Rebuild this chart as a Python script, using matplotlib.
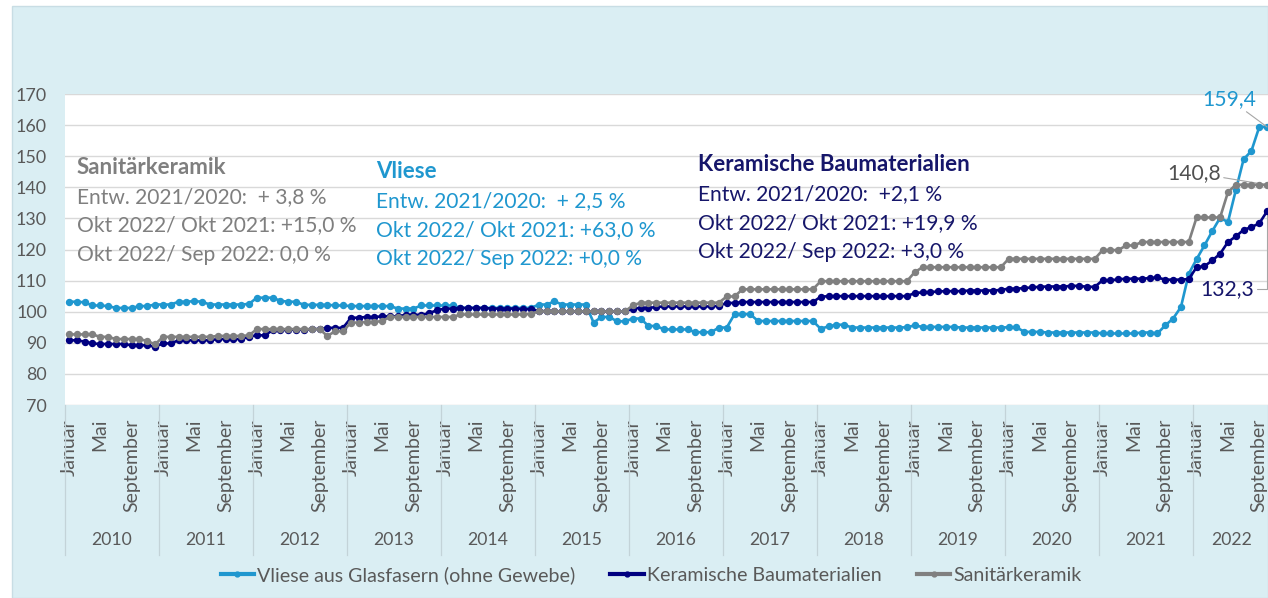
import matplotlib
matplotlib.use("Agg")
import matplotlib.pyplot as plt
import matplotlib.transforms as mtransforms
from matplotlib.lines import Line2D
from matplotlib.patches import Rectangle
import numpy as np

FONT = "Lato"
plt.rcParams['font.family'] = [FONT, 'DejaVu Sans']

# ---------------- data ----------------
years = [2010, 2011, 2012, 2013, 2014, 2015, 2016, 2017, 2018, 2019, 2020, 2021, 2022]
months_in_year = [12, 12, 12, 12, 12, 12, 12, 12, 12, 12, 12, 12, 10]
month_tick_labels = ["Januar", "Mai", "September"]
month_tick_offsets = [0, 4, 8]

vliese = [
    103.2, 103.2, 103.0, 102.0, 102.0, 101.8, 101.2, 101.2, 101.2, 101.8, 101.8, 102.3,  # 2010
    102.3, 102.3, 103.2, 103.2, 103.4, 103.2, 102.3, 102.3, 102.3, 102.3, 102.3, 102.5,  # 2011
    104.5, 104.5, 104.5, 103.5, 103.2, 103.2, 102.2, 102.2, 102.2, 102.2, 102.0, 102.0,  # 2012
    101.8, 101.8, 101.8, 101.8, 101.8, 101.8, 101.0, 101.0, 101.0, 102.0, 102.0, 102.0,  # 2013
    102.0, 102.0, 101.2, 101.2, 101.2, 101.2, 101.2, 101.2, 101.2, 101.2, 101.2, 101.2,  # 2014
    102.3, 102.3, 103.3, 102.3, 102.3, 102.3, 102.3, 96.5, 98.3, 98.3, 96.9, 96.9,       # 2015
    97.8, 97.8, 95.4, 95.4, 94.3, 94.3, 94.3, 94.3, 93.4, 93.4, 93.4, 94.9,             # 2016
    94.9, 99.2, 99.2, 99.2, 97.0, 97.0, 97.0, 97.0, 97.0, 97.0, 97.0, 97.0,             # 2017
    94.5, 95.3, 95.8, 95.8, 94.9, 94.9, 94.9, 94.9, 94.9, 94.9, 94.9, 95.0,             # 2018
    95.6, 95.1, 95.1, 95.1, 95.1, 95.1, 94.9, 94.9, 94.9, 94.9, 94.9, 94.9,             # 2019
    95.0, 95.0, 93.5, 93.5, 93.5, 93.3, 93.3, 93.3, 93.3, 93.3, 93.3, 93.3,             # 2020
    93.0, 93.0, 93.0, 93.0, 93.0, 93.3, 93.3, 93.0, 95.6, 97.8, 101.5, 112.2,           # 2021
    116.9, 121.3, 125.9, 130.2, 128.8, 139.0, 149.0, 151.7, 159.4, 159.4,               # 2022
]
keramik = [
    90.8, 90.8, 90.4, 89.8, 89.6, 89.6, 89.6, 89.6, 89.2, 89.2, 89.2, 88.7,             # 2010
    89.8, 89.8, 90.8, 90.8, 90.8, 90.8, 90.8, 91.2, 91.2, 91.2, 91.2, 92.0,             # 2011
    92.4, 92.4, 94.0, 94.0, 94.2, 94.2, 94.2, 94.4, 94.4, 94.8, 94.8, 94.8,             # 2012
    98.0, 98.1, 98.3, 98.3, 98.5, 98.5, 98.5, 99.0, 99.0, 99.0, 99.5, 100.5,            # 2013
    101.0, 101.0, 101.2, 101.2, 101.2, 101.2, 101.0, 101.0, 101.0, 101.0, 100.8, 100.8, # 2014
    100.3, 100.1, 100.1, 100.1, 100.1, 100.1, 100.1, 100.1, 100.1, 100.1, 100.1, 100.1, # 2015
    101.0, 101.2, 101.2, 101.5, 101.7, 101.7, 101.7, 101.7, 101.7, 101.7, 101.7, 101.9, # 2016
    102.8, 102.8, 103.1, 103.1, 103.1, 103.1, 103.1, 103.1, 103.1, 103.1, 103.1, 103.1, # 2017
    104.8, 105.0, 105.0, 105.0, 105.0, 105.0, 105.0, 105.0, 105.0, 105.0, 105.0, 105.0, # 2018
    106.0, 106.2, 106.3, 106.5, 106.6, 106.6, 106.6, 106.8, 106.8, 106.8, 106.8, 107.0, # 2019
    107.4, 107.4, 107.6, 107.8, 108.0, 108.1, 108.1, 108.1, 108.3, 108.3, 108.0, 108.0, # 2020
    110.1, 110.1, 110.4, 110.6, 110.6, 110.6, 110.8, 111.0, 110.3, 110.3, 110.3, 110.5, # 2021
    114.3, 114.6, 116.5, 118.6, 122.4, 124.2, 126.3, 127.2, 128.4, 132.3,               # 2022
]
sanitaer = [
    92.7, 92.7, 92.7, 92.7, 91.9, 91.9, 91.2, 91.2, 91.2, 91.2, 90.6, 89.5,             # 2010
    91.9, 91.9, 91.9, 91.9, 91.9, 91.9, 91.9, 92.2, 92.2, 92.2, 92.2, 92.4,             # 2011
    94.4, 94.4, 94.4, 94.4, 94.4, 94.4, 94.4, 94.4, 94.4, 92.2, 93.7, 93.7,             # 2012
    96.5, 96.5, 96.7, 96.7, 97.0, 98.3, 98.3, 98.3, 98.3, 98.3, 98.3, 98.3,             # 2013
    98.3, 98.3, 99.1, 99.1, 99.1, 99.1, 99.1, 99.1, 99.1, 99.1, 99.1, 99.3,             # 2014
    100.1, 100.1, 100.1, 100.1, 100.1, 100.1, 100.1, 100.1, 100.1, 100.1, 100.1, 100.1, # 2015
    102.0, 102.9, 102.9, 102.9, 102.9, 102.9, 102.9, 102.9, 102.9, 102.9, 102.9, 102.9, # 2016
    104.9, 104.9, 107.2, 107.2, 107.2, 107.2, 107.2, 107.2, 107.2, 107.2, 107.2, 107.2, # 2017
    109.8, 109.8, 109.8, 109.8, 109.8, 109.8, 109.8, 109.8, 109.8, 109.8, 109.8, 109.8, # 2018
    112.7, 114.3, 114.3, 114.3, 114.3, 114.3, 114.3, 114.3, 114.3, 114.3, 114.3, 114.3, # 2019
    117.0, 117.0, 117.0, 117.0, 117.0, 117.0, 117.0, 117.0, 117.0, 117.0, 117.0, 117.0, # 2020
    119.8, 119.8, 119.8, 121.3, 121.3, 122.4, 122.4, 122.4, 122.4, 122.4, 122.4, 122.4, # 2021
    130.3, 130.3, 130.3, 130.3, 138.4, 140.8, 140.8, 140.8, 140.8, 140.8,               # 2022
]

series_names = ["Vliese aus Glasfasern (ohne Gewebe)", "Keramische Baumaterialien", "Sanitärkeramik"]
series_colors = ["#1F97CF", "#000080", "#808080"]

block_titles = ["Sanitärkeramik", "Vliese", "Keramische Baumaterialien"]
block_lines = [
    ["Entw. 2021/2020:  + 3,8 %", "Okt 2022/ Okt 2021: +15,0 %", "Okt 2022/ Sep 2022: 0,0 %"],
    ["Entw. 2021/2020:  + 2,5 %", "Okt 2022/ Okt 2021: +63,0 %", "Okt 2022/ Sep 2022: +0,0 %"],
    ["Entw. 2021/2020:  +2,1 %", "Okt 2022/ Okt 2021: +19,9 %", "Okt 2022/ Sep 2022: +3,0 %"],
]
block_colors = ["#7F7F7F", "#1F97CF", "#16166A"]

# ---------------- figure ----------------
W, H = 1268, 598
fig = plt.figure(figsize=(W / 100, H / 100), dpi=100, facecolor="white")
fig.patches.append(Rectangle((12 / W, 0), (W - 12) / W, (H - 6) / H, transform=fig.transFigure,
                             facecolor="#DAEEF3", edgecolor="#C8DDE4", lw=1, zorder=-10))
renderer = fig.canvas.get_renderer()


def fit(s, px, weight="normal"):
    t = fig.text(0, 0, s, fontsize=10, weight=weight)
    w = t.get_window_extent(renderer).width
    t.remove()
    return 10 * px / w


fs_ann = fit("Okt 2022/ Okt 2021: +15,0 %", 280)
fs_title = fit("Keramische Baumaterialien", 272, "bold")
fs_month = fit("September", 94)
fs_year = fit("2010", 41)
fs_ytick = fit("170", 31)
fs_leg = fit("Vliese aus Glasfasern (ohne Gewebe)", 318)
fs_dl = fit("159,4", 54)

ax = fig.add_axes([65 / W, (H - 405) / H, (1271 - 65) / W, (405 - 94) / H])
ax.set_facecolor("white")
x = np.arange(len(vliese))
for vals, c, name, z in zip([vliese, keramik, sanitaer], series_colors, series_names, [3, 4, 5]):
    ax.plot(x, vals, color=c, lw=1.9, marker="o", ms=4.3, mfc=c, mec=c, label=name,
            zorder=z, clip_on=False)

ax.set_xlim(-0.5, len(vliese) - 0.5)
ax.set_ylim(70, 170)
ax.set_yticks(np.arange(70, 171, 10))
ax.grid(axis="y", color="#D9D9D9", lw=1)
ax.set_axisbelow(True)
for sp in ax.spines.values():
    sp.set_visible(False)
ax.tick_params(axis="y", length=0, pad=13, labelsize=fs_ytick, labelcolor="#595959")

# x ticks
starts = np.concatenate([[0], np.cumsum(months_in_year)[:-1]])
tick_pos, tick_lab = [], []
for s, n in zip(starts, months_in_year):
    for off, lab in zip(month_tick_offsets, month_tick_labels):
        if off < n:
            tick_pos.append(s + off)
            tick_lab.append(lab)
ax.set_xticks(tick_pos)
ax.set_xticklabels(tick_lab, rotation=90, fontsize=fs_month, color="#595959")
ax.tick_params(axis="x", length=0, pad=10)

trans = mtransforms.blended_transform_factory(ax.transData, ax.transAxes)
for s, n, yr in zip(starts, months_in_year, years):
    ax.text(s + n / 2 - 0.5, -0.434, str(yr), transform=trans, ha="center", va="center",
            fontsize=fs_year, color="#595959")
bounds = list(starts - 0.5) + [starts[-1] + months_in_year[-1] - 0.5]
for b in bounds:
    ax.plot([b, b], [0, -0.482], transform=trans, color="#C3D3D8", lw=0.9, clip_on=False)

# text blocks
block_x = [77, 376, 698]
block_y = [[168, 197, 225, 255], [172, 201, 230, 259], [165, 194, 223, 252]]
for title, lines, col, bx, bys in zip(block_titles, block_lines, block_colors, block_x, block_y):
    fig.text(bx / W, 1 - bys[0] / H, title, fontsize=fs_title, weight="bold", color=col,
             ha="left", va="center")
    for ln, by in zip(lines, bys[1:]):
        fig.text(bx / W, 1 - by / H, ln, fontsize=fs_ann, color=col, ha="left", va="center")

# data labels at the last point
last = len(vliese) - 1
lead = dict(arrowstyle="-", color="#A6A6A6", lw=0.8, shrinkA=0, shrinkB=0)
ax.annotate(f"{vliese[-1]:.1f}".replace(".", ","), xy=(last, vliese[-1]), xytext=(-38, 28),
            textcoords="offset pixels", ha="center", va="center", fontsize=fs_dl,
            color="#1F97CF", arrowprops=lead, annotation_clip=False)
ax.annotate(f"{sanitaer[-1]:.1f}".replace(".", ","), xy=(last, sanitaer[-1]), xytext=(-73, 12),
            textcoords="offset pixels", ha="center", va="center", fontsize=fs_dl,
            color="#505050", arrowprops=lead, annotation_clip=False)
ax.annotate(f"{keramik[-1]:.1f}".replace(".", ","), xy=(last, keramik[-1]), xytext=(-40, -78),
            textcoords="offset pixels", ha="center", va="center", fontsize=fs_dl,
            color="#16166A", annotation_clip=False,
            arrowprops=dict(lead, connectionstyle="angle,angleA=0,angleB=90,rad=0"))

# legend
handles = [Line2D([], [], color=c, lw=3, marker="o", ms=3.5, mfc=c, mec=c) for c in series_colors]
fig.legend(handles, series_names, loc="center", bbox_to_anchor=(651 / W, 1 - 575 / H), ncol=3,
           frameon=False, fontsize=fs_leg, handlelength=1.7, handletextpad=0.15,
           columnspacing=1.8, labelcolor="#595959")

fig.savefig("out.png", dpi=100, facecolor=fig.get_facecolor())
